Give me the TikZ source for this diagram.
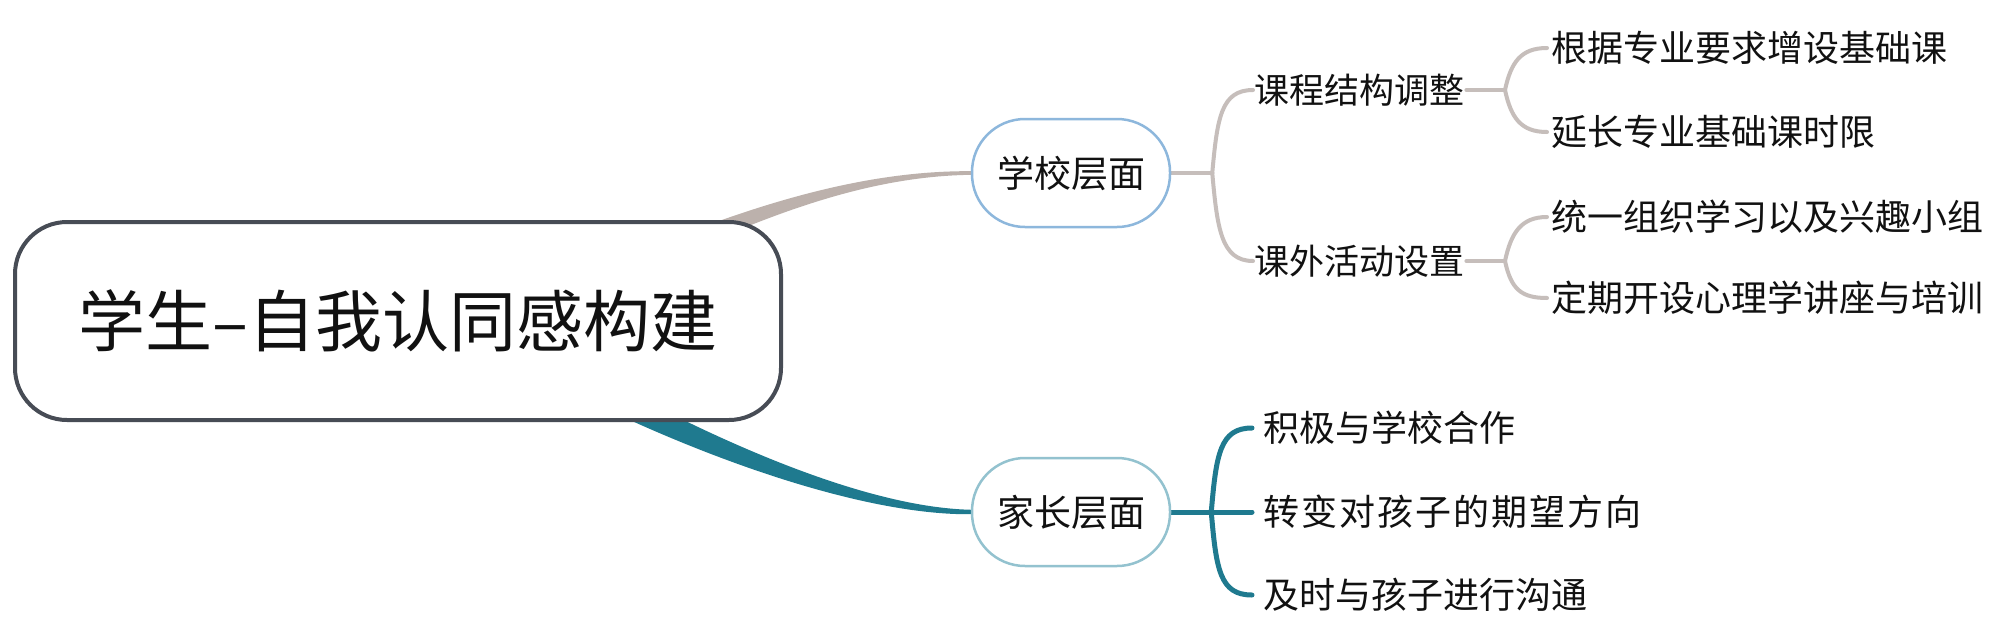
\documentclass[tikz,border=0pt]{standalone}
\usepackage{fontspec}
\setmainfont{Noto Sans CJK SC}
\newfontfamily\cjkwide[LetterSpace=5.5]{Noto Sans CJK SC}
\usetikzlibrary{calc}
\definecolor{rootborder}{HTML}{474C55}
\definecolor{schoolline}{HTML}{BCB1AC}
\definecolor{subline}{HTML}{C6BEBB}
\definecolor{parentline}{HTML}{1F7A8F}
\definecolor{schoolborder}{HTML}{8DB7DC}
\definecolor{parentborder}{HTML}{93C2CF}
\definecolor{txt}{HTML}{111111}
\pgfdeclarelayer{bg}
\pgfdeclarelayer{conn}
\pgfsetlayers{bg,conn,main}
\begin{document}
\begin{tikzpicture}[x=1pt,y=-1pt,
  rootbox/.style={draw=rootborder,line width=4pt,fill=white,rounded corners=52pt,minimum width=766pt,minimum height=198pt,font=\fontsize{67}{70}\selectfont,text=txt,inner sep=0pt},
  pill/.style={line width=2.5pt,fill=white,rounded corners=53pt,minimum width=198pt,minimum height=108pt,font=\fontsize{37}{40}\selectfont,text=txt,inner sep=0pt},
  topic/.style={anchor=west,inner sep=0pt,font=\fontsize{35}{40}\selectfont,text=txt},
  leaf/.style={anchor=west,inner sep=0pt,font=\fontsize{36}{40}\selectfont,text=txt},
  gline/.style={draw=subline,line width=4pt,line cap=round},
  tline/.style={draw=parentline,line width=5pt,line cap=round},
]
\useasboundingbox (0,0) rectangle (2000,640);
\begin{pgfonlayer}{bg}
\fill[white] (0,0) rectangle (2000,640);
\end{pgfonlayer}

% nodes
\node[rootbox] (root) at (398,321) {学生–自我认同感构建};
\node[pill,draw=schoolborder] (school) at (1071,173) {学校层面};
\node[pill,draw=parentborder] (parent) at (1071,512) {家长层面};

\node[topic] (kc) at (1254,90) {课程结构调整};
\node[topic] (kw) at (1254,261) {课外活动设置};
\node[leaf] (l1) at (1551,48) {根据专业要求增设基础课};
\node[leaf] (l2) at (1551,132) {延长专业基础课时限};
\node[leaf] (l3) at (1551,217) {统一组织学习以及兴趣小组};
\node[leaf] (l4) at (1551,298) {定期开设心理学讲座与培训};

\node[leaf] (p1) at (1263,428) {积极与学校合作};
\node[leaf] (p2) at (1263,512) {\cjkwide 转变对孩子的期望方向};
\node[leaf] (p3) at (1263,595) {及时与孩子进行沟通};

% connectors
\coordinate (rootUpA) at (676,237);
\coordinate (rootUpB) at (683,254);
\coordinate (rootDnA) at (632,394);
\coordinate (rootDnB) at (621,416);
\begin{pgfonlayer}{conn}
\fill[schoolline] (rootUpA) .. controls (784,195) and (880,170.3) .. ($(school.west)+(2,-1.8)$)
  -- ($(school.west)+(2,1.8)$) .. controls (880,175.7) and (789,206) .. (rootUpB) -- cycle;
\fill[parentline] (rootDnA) .. controls (752,457) and (880,508.3) .. ($(parent.west)+(2,-2.2)$)
  -- ($(parent.west)+(2,2.2)$) .. controls (880,515.7) and (745,473) .. (rootDnB) -- cycle;

% school branches
\coordinate (sb) at ($(school.east)+(41,0)$);
\draw[gline] (school.east) -- (sb);
\draw[gline] (sb) .. controls +(5,-55) and +(-32,0) .. ($(kc.west)+(-1,0)$);
\draw[gline] (sb) .. controls +(5,55) and +(-32,0) .. ($(kw.west)+(-1,0)$);

\coordinate (kcb) at (1505,90);
\draw[gline] ($(kc.east)+(2,0)$) -- (kcb);
\draw[gline] (kcb) .. controls +(6,-28) and +(-26,0) .. ($(l1.west)+(-4,0)$);
\draw[gline] (kcb) .. controls +(6,28) and +(-26,0) .. ($(l2.west)+(-4,0)$);

\coordinate (kwb) at (1505,261);
\draw[gline] ($(kw.east)+(2,0)$) -- (kwb);
\draw[gline] (kwb) .. controls +(6,-28) and +(-26,0) .. ($(l3.west)+(-4,0)$);
\draw[gline] (kwb) .. controls +(6,28) and +(-26,0) .. ($(l4.west)+(-4,0)$);

% parent branches
\coordinate (pb) at ($(parent.east)+(40,0)$);
\draw[tline] (parent.east) -- ($(p2.west)+(-11,0)$);
\draw[tline] (pb) .. controls +(5,-58) and +(-32,0) .. ($(p1.west)+(-11,0)$);
\draw[tline] (pb) .. controls +(5,58) and +(-32,0) .. ($(p3.west)+(-11,0)$);
\end{pgfonlayer}
\end{tikzpicture}
\end{document}
